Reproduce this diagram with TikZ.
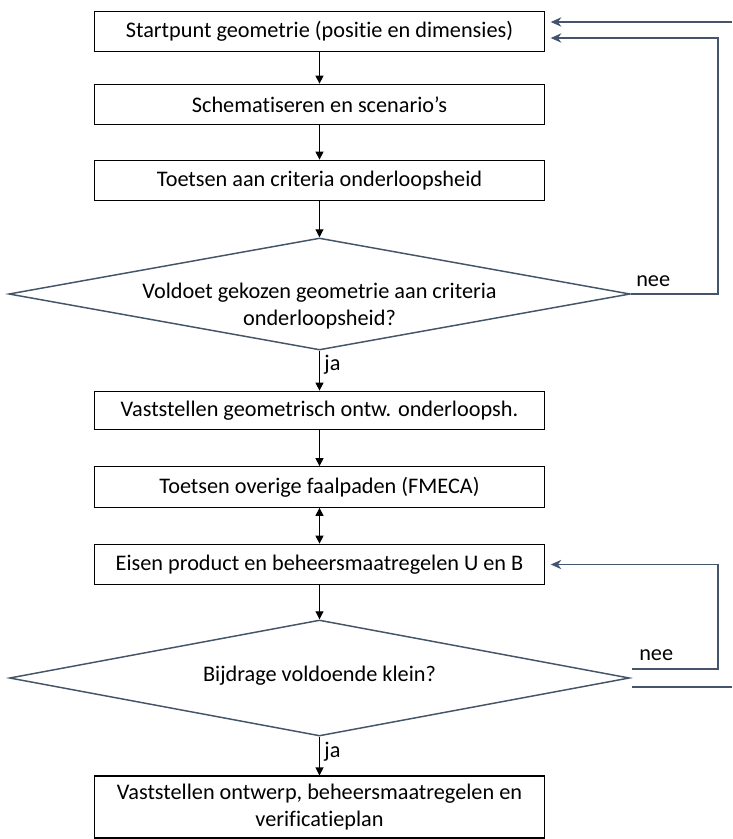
\documentclass[tikz,border=0pt]{standalone}
\usepackage{fontspec}
\setmainfont{Carlito}[Ligatures=NoCommon]
\usetikzlibrary{shapes.geometric,arrows.meta}
\definecolor{lijn}{RGB}{68,84,106}

\begin{document}
\begin{tikzpicture}[x=0.75pt,y=-0.75pt,
    font=\fontsize{16.7}{20}\selectfont,
    stap/.style={draw,line width=0.8pt,minimum width=338pt,minimum height=30.5pt,inner sep=0pt,align=center},
    keuze/.style={diamond,draw=lijn,line width=1.1pt,inner sep=0pt},
    pijl/.style={-{Triangle[length=6pt,width=6pt]},line width=0.8pt},
    terug/.style={line width=1.1pt,draw=lijn},
    terugpijl/.style={terug,-{Stealth[length=8pt,width=7pt]},shorten >=4pt}]
  \useasboundingbox(0,0)rectangle(732,839);
  % stappen
  \node[stap](s1)at(319.5,31.5){Startpunt geometrie (positie en dimensies)};
  \node[stap](s2)at(319.5,104.5){Schematiseren en scenario's};
  \node[stap](s3)at(319.5,180.5){Toetsen aan criteria onderloopsheid};
  \node[keuze,minimum width=466pt,minimum height=84pt,
    label={[align=center,yshift=-9pt]center:Voldoet gekozen geometrie aan criteria\\onderloopsheid?}](k1)at(319.5,294){};
  \node[stap,minimum height=29pt](s4)at(319.5,410.5){Vaststellen geometrisch ontw. onderloopsh.};
  \node[stap](s5)at(319.5,487){Toetsen overige faalpaden (FMECA)};
  \node[stap](s6)at(319.5,564.5){Eisen product en beheersmaatregelen U en B};
  \node[keuze,minimum width=465pt,minimum height=87pt,
    label={[yshift=2pt]center:Bijdrage voldoende klein?}](k2)at(319.5,678){};
  \node[stap,minimum height=46.5pt](s7)at(319.5,807){Vaststellen ontwerp, beheersmaatregelen en\\verificatieplan};
  % pijlen omlaag
  \draw[pijl](s1)--(s2);
  \draw[pijl](s2)--(s3);
  \draw[pijl](s3)--(k1);
  \draw[pijl](k1)--(s4)node[pos=0.35,right]{ja};
  \draw[pijl](s4)--(s5);
  \draw[{Triangle[length=6pt,width=6pt]}-{Triangle[length=6pt,width=6pt]},line width=0.8pt](s5)--(s6);
  \draw[pijl](s6)--(k2);
  \draw[pijl](k2)--(s7)node[pos=0.4,right]{ja};
  % terugkoppelingen
  \coordinate(h1)at(718,294);
  \coordinate(h2)at(718,669);
  \coordinate(l2)at(632,669);
  \coordinate(l3)at(632,687);
  \coordinate(r3)at(732,687);
  \coordinate(r1)at(732,22);
  \draw[terugpijl](k1.east)--(h1)|-(s1.east|-0,38);
  \node[anchor=south west,inner sep=0pt]at(636,287){nee};
  \draw[terugpijl](l2)--(h2)|-(s6.east);
  \node[anchor=south west,inner sep=0pt]at(639,661){nee};
  \draw[terug](l3)--(r3);
  \draw[terugpijl](r1)--(s1.east|-r1);
\end{tikzpicture}
\end{document}
